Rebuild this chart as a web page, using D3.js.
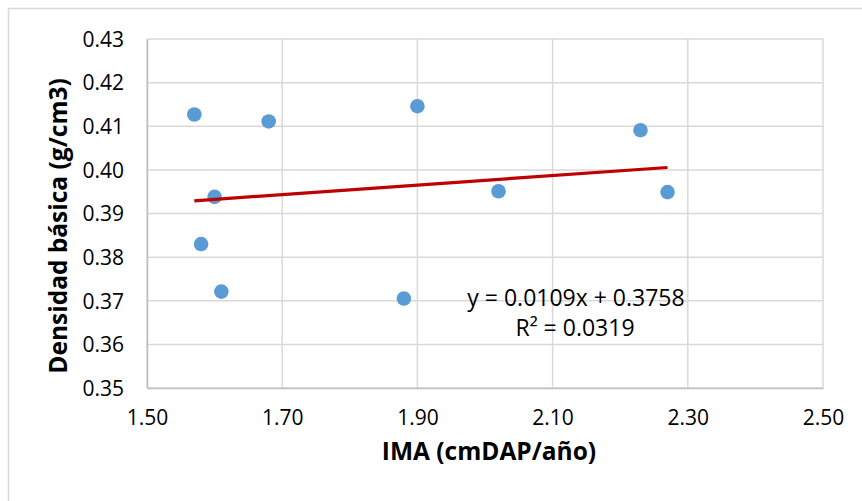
<!DOCTYPE html>
<html><head><meta charset="utf-8">
<script src="https://cdn.jsdelivr.net/npm/d3@7"></script>
<style>body{margin:0;background:#fff}svg{display:block}</style>
</head><body>
<svg id="c" width="862" height="501"></svg>
<script>
const imaValues = [1.57, 1.68, 1.90, 2.23, 2.02, 2.27, 1.60, 1.58, 1.61, 1.88];
const densityValues = [0.4127, 0.4111, 0.4146, 0.4091, 0.3951, 0.3949, 0.3938, 0.3830, 0.3721, 0.3705];
const xTicks = [1.50, 1.70, 1.90, 2.10, 2.30, 2.50];
const yTicks = [0.35, 0.36, 0.37, 0.38, 0.39, 0.40, 0.41, 0.42, 0.43];
const trendSlope = 0.0109, trendIntercept = 0.3758;
const trendX = [1.57, 2.27];
const equationText = "y = 0.0109x + 0.3758";
const r2Text = "R² = 0.0319";
const xTitle = "IMA (cmDAP/año)";
const yTitle = "Densidad básica (g/cm3)";

const svg = d3.select("#c");
const font = "'Open Sans', 'Liberation Sans', sans-serif";
const L = 147, R = 823, T = 39, B = 388;
const x = d3.scaleLinear().domain([1.5, 2.5]).range([L, R]);
const y = d3.scaleLinear().domain([0.35, 0.43]).range([B, T]);

// outer chart border
svg.append("rect").attr("x", 8.5).attr("y", 8.5).attr("width", 900).attr("height", 600)
  .attr("fill", "none").attr("stroke", "#d9d9d9").attr("stroke-width", 1.5);

// gridlines
const grid = svg.append("g");
grid.selectAll("line.h").data(yTicks).join("line")
  .attr("x1", L).attr("x2", R).attr("y1", d => y(d)).attr("y2", d => y(d))
  .attr("stroke", "#d9d9d9").attr("stroke-width", 1.5);
grid.selectAll("line.v").data(xTicks).join("line")
  .attr("y1", T).attr("y2", B).attr("x1", d => x(d)).attr("x2", d => x(d))
  .attr("stroke", "#d9d9d9").attr("stroke-width", 1.5);

// axes
const xAxis = svg.append("g").attr("transform", `translate(0,${B})`)
  .call(d3.axisBottom(x).tickValues(xTicks).tickFormat(d3.format(".2f")).tickSize(0).tickPadding(22));
const yAxis = svg.append("g").attr("transform", `translate(${L},0)`)
  .call(d3.axisLeft(y).tickValues(yTicks).tickFormat(d3.format(".2f")).tickSize(0).tickPadding(23));
[xAxis, yAxis].forEach(a => {
  a.select(".domain").attr("stroke", "#bfbfbf").attr("stroke-width", 1.5);
  a.selectAll("text").attr("font-family", font).attr("font-size", 21).attr("fill", "#000");
});
yAxis.selectAll("text").attr("dy", "0.35em");

// points
svg.append("g").selectAll("circle").data(imaValues.map((v, i) => [v, densityValues[i]])).join("circle")
  .attr("cx", d => x(d[0])).attr("cy", d => y(d[1])).attr("r", 7.3).attr("fill", "#5b9bd5");

// trendline
svg.append("line")
  .attr("x1", x(trendX[0])).attr("y1", y(trendSlope * trendX[0] + trendIntercept))
  .attr("x2", x(trendX[1])).attr("y2", y(trendSlope * trendX[1] + trendIntercept))
  .attr("stroke", "#c00000").attr("stroke-width", 3.2);

// equation
svg.append("text").attr("x", 576).attr("y", 306).attr("text-anchor", "middle")
  .attr("font-family", font).attr("font-size", 23).text(equationText);
svg.append("text").attr("x", 575).attr("y", 336).attr("text-anchor", "middle")
  .attr("font-family", font).attr("font-size", 23).text(r2Text);

// titles
svg.append("text").attr("x", 489).attr("y", 460).attr("text-anchor", "middle")
  .attr("font-family", font).attr("font-size", 24.5).attr("font-weight", "bold").text(xTitle);
svg.append("text").attr("transform", "translate(67,226) rotate(-90)").attr("text-anchor", "middle")
  .attr("font-family", font).attr("font-size", 24.5).attr("font-weight", "bold").text(yTitle);
</script>
</body></html>
